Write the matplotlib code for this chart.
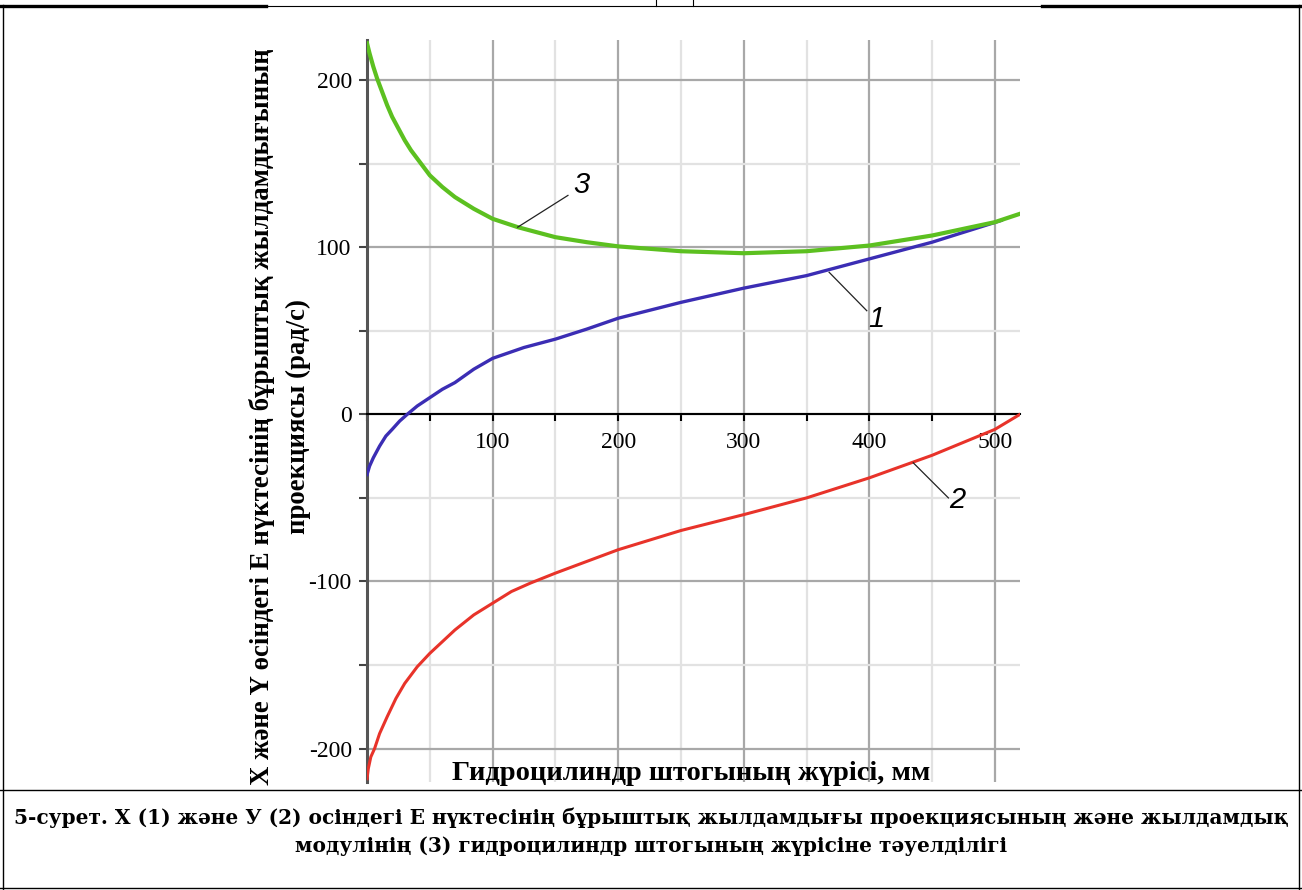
import numpy as np
import matplotlib.pyplot as plt
from matplotlib.lines import Line2D
from matplotlib.ticker import MultipleLocator

plt.rcParams['font.family'] = ['Liberation Serif', 'DejaVu Serif']
plt.rcParams['axes.unicode_minus'] = False

# stroke of the rod, mm  /  angular velocity, rad/s
x_mod = [0, 2, 5, 8, 10, 13, 16, 20, 25, 30, 35, 43, 50, 60, 70, 85, 100, 120, 150, 175, 200,
         250, 300, 350, 400, 450, 500, 520]
w_mod = [222, 216, 208, 201, 197, 191, 185, 178, 171, 164, 158, 150, 143, 136, 130, 123, 117, 112, 106,
         103, 100.5, 97.6, 96.4, 97.6, 101, 107, 115, 120]

x_projx = [0, 2, 5, 10, 15, 20, 26, 32, 40, 50, 60, 70, 85, 100, 125, 150, 175, 200, 250, 300, 350,
           400, 450, 505]
w_projx = [-36, -31, -26, -19, -13, -9, -4, 0, 5, 10, 15, 19, 27, 33.5, 40, 45, 51, 57.5, 67, 75.5, 83,
           93, 103, 116]

x_projy = [0, 1, 3, 6, 10, 16, 23, 30, 40, 50, 60, 70, 85, 100, 115, 130, 150, 175, 200, 250, 300,
           350, 400, 450, 500, 520]
w_projy = [-218, -212, -205, -200, -191, -181, -170, -161, -151, -143, -136, -129, -120, -113, -106, -101,
           -95, -88, -81, -69.5, -60, -50, -38, -24.5, -9, 0]

xticks = [100, 200, 300, 400, 500]
yticks = [-200, -100, 0, 100, 200]

ylabel1 = 'Х және Y өсіндегі Е нүктесінің бұрыштық жылдамдығының'
ylabel2 = 'проекциясы (рад/с)'
xlabel = 'Гидроцилиндр штогының жүрісі, мм'
caption1 = '5-сурет. Х (1) және У (2) осіндегі Е нүктесінің бұрыштық жылдамдығы проекциясының және жылдамдық'
caption2 = 'модулінің (3) гидроцилиндр штогының жүрісіне тәуелділігі'

fig = plt.figure(figsize=(13.02, 8.90), dpi=100)
ax = fig.add_axes([0.2819, 0.1213, 0.5015, 0.8338])

ax.plot(x_projy, w_projy, color='#e8332a', lw=2.2, zorder=3)
ax.plot(x_projx, w_projx, color='#3b2db4', lw=2.4, zorder=3)
ax.plot(x_mod, w_mod, color='#5cc020', lw=3.0, zorder=4)

ax.set_xlim(0, 520)
ax.set_ylim(-220, 224)
ax.set_xticks(xticks)
ax.set_yticks(yticks)
ax.xaxis.set_minor_locator(MultipleLocator(50))
ax.yaxis.set_minor_locator(MultipleLocator(50))
ax.grid(which='major', color='#a8a8a8', lw=1.6, zorder=0)
ax.grid(which='minor', color='#e2e2e2', lw=1.6, zorder=0)
ax.set_axisbelow(True)

ax.spines['top'].set_visible(False)
ax.spines['right'].set_visible(False)
ax.spines['bottom'].set_position(('data', 0))
ax.spines['bottom'].set_color('black')
ax.spines['bottom'].set_linewidth(1.5)
ax.spines['left'].set_color('#555555')
ax.spines['left'].set_linewidth(2.2)

ax.tick_params(axis='x', which='both', direction='out', length=5, width=1.5, color='black', labelsize=17, pad=8)
ax.tick_params(axis='y', which='both', direction='out', length=6, width=1.5, color='#444444', labelsize=17, pad=5)

# curve labels with leader lines
for (x0, y0, x1, y1, xt, yt, s) in [(120, 112, 160, 131, 171, 137, '3'),
                                    (368, 85, 398, 62, 406, 57, '1'),
                                    (435, -29, 463, -50, 470, -51, '2')]:
    ax.plot([x0, x1], [y0, y1], color='#222222', lw=0.9, zorder=5)
    ax.text(xt, yt, s, fontsize=21, style='italic', family='Liberation Sans',
            ha='center', va='center', zorder=6)

fig.text(0.201, 0.532, ylabel1, rotation=90, ha='center', va='center', fontsize=19.3, fontweight='bold')
fig.text(0.229, 0.532, ylabel2, rotation=90, ha='center', va='center', fontsize=19.3, fontweight='bold')
fig.text(0.531, 1 - 773 / 890, xlabel, ha='center', va='center', fontsize=20.5, fontweight='bold')
fig.text(0.5, 1 - 818 / 890, caption1, ha='center', va='center', fontsize=14.5,
         fontweight='bold', family='DejaVu Serif')
fig.text(0.5, 1 - 846 / 890, caption2, ha='center', va='center', fontsize=14.5,
         fontweight='bold', family='DejaVu Serif')

# table frame around the figure
def hline(y, x0, x1, lw):
    fig.add_artist(Line2D([x0 / 1302, x1 / 1302], [1 - y / 890, 1 - y / 890], color='black', lw=lw))

def vline(x, y0, y1, lw):
    fig.add_artist(Line2D([x / 1302, x / 1302], [1 - y0 / 890, 1 - y1 / 890], color='black', lw=lw))

hline(5.5, 0, 266, 2.4)
hline(6, 266, 1042, 0.8)
hline(5.5, 1042, 1302, 2.4)
vline(656, 0, 6, 0.8)
vline(693, 0, 6, 0.8)
vline(3, 5, 890, 1.0)
vline(1299, 5, 890, 1.0)
hline(790, 0, 1302, 1.0)
hline(888, 0, 1302, 1.0)

fig.savefig('out.png', dpi=100)
